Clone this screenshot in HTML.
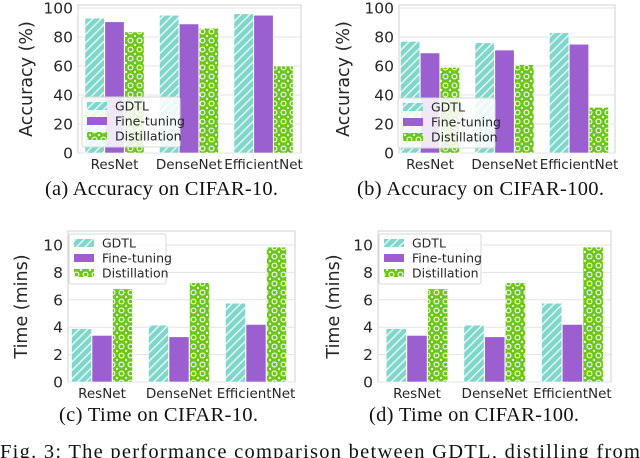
<!DOCTYPE html>
<html><head><meta charset="utf-8">
<style>
html,body{margin:0;padding:0;background:#fff;width:640px;height:458px;overflow:hidden}
svg{display:block}
.tk{font-family:"DejaVu Sans","Liberation Sans",sans-serif;fill:#262626}
.cap{font-family:"Liberation Serif",serif;fill:#111}
</style></head>
<body>
<svg id="fig" width="640" height="458" viewBox="0 0 640 458" xmlns="http://www.w3.org/2000/svg">
<defs>
<pattern id="hatch" patternUnits="userSpaceOnUse" width="6" height="6" patternTransform="rotate(45)">
<rect width="6" height="6" fill="#7fd6ca"/><rect x="0" y="0" width="1.6" height="6" fill="#dff5f1"/>
</pattern>
<pattern id="dots" patternUnits="userSpaceOnUse" width="9" height="9">
<rect width="9" height="9" fill="#6cc41c"/>
<circle cx="4.5" cy="4.5" r="2.4" fill="none" stroke="#e8f7d8" stroke-width="1.3"/>
<circle cx="0" cy="0" r="1.2" fill="#e8f7d8"/><circle cx="9" cy="0" r="1.2" fill="#e8f7d8"/>
<circle cx="0" cy="9" r="1.2" fill="#e8f7d8"/><circle cx="9" cy="9" r="1.2" fill="#e8f7d8"/>
</pattern>
</defs>
<g id="panels"></g>
<text class="cap" x="45" y="195" font-size="20.5" textLength="233" lengthAdjust="spacing">(a)  Accuracy on CIFAR-10.</text>
<text class="cap" x="357" y="195" font-size="20.5" textLength="247" lengthAdjust="spacing">(b)  Accuracy on CIFAR-100.</text>
<text class="cap" x="59" y="421" font-size="20.5" textLength="199" lengthAdjust="spacing">(c)  Time on CIFAR-10.</text>
<text class="cap" x="369" y="421" font-size="20.5" textLength="210" lengthAdjust="spacing">(d)  Time on CIFAR-100.</text>
<text class="cap" x="0" y="458" font-size="20.5" textLength="640" lengthAdjust="spacing">Fig. 3: The performance comparison between GDTL, distilling from</text>
</svg>
<script>
const categories = ["ResNet","DenseNet","EfficientNet"];
const seriesNames = ["GDTL","Fine-tuning","Distillation"];
const accC10_gdtl = [93, 95, 96];
const accC10_ft = [90.5, 89, 95];
const accC10_dist = [83.5, 86, 60];
const accC100_gdtl = [77, 76, 83];
const accC100_ft = [69, 71, 75];
const accC100_dist = [59, 61, 31.5];
const timeC10_gdtl = [3.9, 4.15, 5.75];
const timeC10_ft = [3.4, 3.3, 4.2];
const timeC10_dist = [6.8, 7.25, 9.85];
const timeC100_gdtl = [3.9, 4.15, 5.75];
const timeC100_ft = [3.4, 3.3, 4.2];
const timeC100_dist = [6.8, 7.25, 9.85];
const accTicks = [0,20,40,60,80,100];
const timeTicks = [0,2,4,6,8,10];

const NS="http://www.w3.org/2000/svg";
const fills=["url(#hatch)","#9b5fcf","url(#dots)"];
const root=document.getElementById('panels');
function el(tag,attrs,parent){const e=document.createElementNS(NS,tag);for(const k in attrs)e.setAttribute(k,attrs[k]);(parent||root).appendChild(e);return e;}

function panel(p){
  const g=el('g',{});
  
  
  const y=v=>p.y0-(v/p.ymax)*(p.y0-p.ytop);
  const cx=i=>p.c0+p.step*i;
  const bw=p.step*0.26;
  el('rect',{x:p.left,y:p.top,width:p.right-p.left,height:p.y0-p.top,fill:'#fff',stroke:'#d0d0d0','stroke-width':1},g);
  p.ticks.forEach(t=>{
    const gl=el('line',{x1:p.left,x2:p.right,y1:y(t),y2:y(t),stroke:'#e3e3e3','stroke-width':1},g);
    
    
    const tl=el('text',{x:p.left-5,y:y(t)+5.5,'font-size':15.5,'text-anchor':'end',class:'tk'},g);
    tl.textContent=t;
    
    
  });
  const yt=el('text',{x:0,y:0,'font-size':17.5,'text-anchor':'middle',class:'tk',transform:`translate(${p.ytx},${(p.top+p.y0)/2}) rotate(-90)`},g);
  yt.textContent=p.ytitle;
  
  
  p.series.forEach((s,si)=>{
    s.forEach((v,i)=>{
      const x=cx(i)+(si-1)*(bw+0.5)-bw/2;
      const b=el('rect',{x:x,y:y(v),width:bw,height:p.y0-y(v),fill:fills[si],stroke:'#fff','stroke-width':0.6},g);
      
      
    });
  });
  categories.forEach((c,i)=>{
    const t=el('text',{x:cx(i),y:p.y0+16,'font-size':13.5,'text-anchor':'middle',class:'tk'},g);
    t.textContent=c;
    
    
  });
  const L=p.leg;
  const lg=el('g',{},g);
  
  
  el('rect',{x:L.x,y:L.y,width:L.w,height:50,fill:'#fff','fill-opacity':0.85,stroke:'#d8d8d8',rx:2},lg);
  seriesNames.forEach((s,si)=>{
    const yy=L.y+9+si*15;
    el('rect',{x:L.x+5,y:yy-4,width:20,height:8,fill:fills[si]},lg);
    const t=el('text',{x:L.x+33,y:yy+4.5,'font-size':12.5,class:'tk'},lg);
    t.textContent=s;
    
    
  });
}
panel({name:'chart-a',left:78,right:301,top:5,ytop:8,y0:153,ymax:100,ticks:accTicks,ytitle:'Accuracy (%)',ytx:32,c0:114.5,step:74.5,
  series:[accC10_gdtl,accC10_ft,accC10_dist],leg:{x:82,y:97,w:98}});
panel({name:'chart-b',left:399,right:615,top:5,ytop:8,y0:153,ymax:100,ticks:accTicks,ytitle:'Accuracy (%)',ytx:349,c0:430,step:74.5,
  series:[accC100_gdtl,accC100_ft,accC100_dist],leg:{x:398,y:98,w:97}});
panel({name:'chart-c',left:68,right:295,top:231,ytop:245,y0:382,ymax:10,ticks:timeTicks,ytitle:'Time (mins)',ytx:27,c0:102,step:77,
  series:[timeC10_gdtl,timeC10_ft,timeC10_dist],leg:{x:69,y:234,w:97}});
panel({name:'chart-d',left:378,right:611,top:231,ytop:245,y0:382,ymax:10,ticks:timeTicks,ytitle:'Time (mins)',ytx:339,c0:417,step:77.7,
  series:[timeC100_gdtl,timeC100_ft,timeC100_dist],leg:{x:379,y:234,w:102}});
</script>
</body></html>
